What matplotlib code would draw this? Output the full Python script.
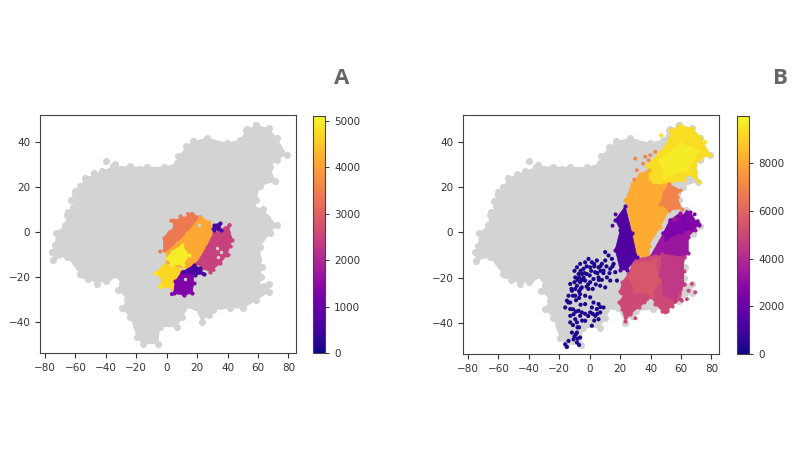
import matplotlib
matplotlib.use('Agg')
import matplotlib.pyplot as plt
from matplotlib import cm
from matplotlib.colors import Normalize

# gray cloud outline
gray_x = [-74.6,-75.6,-73.5,-72.8,-66.9,-65.8,-61.4,-60.3,-57,-53.7,-42.8,-35,-24,-13,-2,7,7.7,13,17.5,26.3,39.5,48,52.6,59,67,72.4,79,72.4,68,71.5,61.4,59,56,63.6,72.4,68,61.4,62.5,61.4,67.5,67.5,59,50.4,41.7,30.7,23,18.6,15,6.6,-4.4,-5.5,-15.4,-19.7,-24,-29.6,-26.3,-31.8,-30.7,-46,-57,-65.8]
gray_y = [-12.5,-8.8,-5.8,-0.3,3.1,7.6,11.3,16.5,20.3,24,27,29.2,29.2,29,29,30.7,33.7,38,40.4,41.9,39.6,41,45.6,47.4,46.3,41.9,34.4,32,29,22.5,20.3,14.3,12,10,3,-0.6,-6.6,-15.5,-24.4,-23,-26.7,-30.4,-34,-34,-34.9,-40,-33.4,-32.6,-42.3,-42.3,-49.8,-49.8,-46.8,-37.9,-34,-29.7,-26,-20,-23,-18.5,-11]
gray_dots_x = [-40,-34,-72,-58,-55,-65,-16,-8,64,52,59,-48,-30,-18,30,34,44,55,60,65,-68,-63,-60,-52,-40,-20,-8,-24,-12,0,10,28,60,62,66,-38,-50,-45]
gray_dots_y = [31.5,30,-6,-15,-19,9,-47,-45,-24,45.5,47.5,26,28,28,40,39,39,43,44,43,-4,14,18,-21,-22,-42,-47,-33,-44,-40,-38,-37,-12,-20,6,-20,-19,-21]

# panel A clusters: colour value, outline
a_values = [3400,4100,4700,4950,2450,1300,600,600]
a_x = [
    [-2.1,-2.1,1.2,4.5,4.1,10,16.6,22,20.9,13.3,6.7,1.2],
    [22,27.5,29.7,30.8,26.4,19.8,13.3,5.6,0.1,0.1,6.7,13.3],
    [-7.6,-2.1,3.4,10,5.6,3.4,-4.3,-3.2],
    [10,14.4,11,3.4,0.1,3.4],
    [40.7,42.9,39.6,35.2,28.6,23.1,19.8,26.4,30.8,36.3],
    [4.5,5.6,10,17.7,17.7,16.6,11.1],
    [11,17.7,22,24.2,18.8],
    [30.8,35.2,35.6,30.8],
]
a_y = [
    [-8,-2.8,0.1,1.6,5.3,6.1,8,6.8,3.1,-2,-5,-9.5],
    [6.8,4.6,1.6,-0.6,-6.5,-13.9,-16,-15.4,-13.2,-8.7,-5,-0.6],
    [-18.4,-14.7,-14.7,-16.9,-22,-25,-24.3,-20.6],
    [-5.8,-10.2,-14.7,-14.7,-11.7,-8.7],
    [3.1,-3.6,-10.2,-13.9,-17.6,-16.1,-13.9,-6.5,-0.6,0.9],
    [-27.3,-22,-17.6,-15.4,-22.8,-27.3,-28],
    [-17.6,-14.7,-16,-18.7,-19],
    [3.1,4.1,0.9,0.9],
]
a_dots_x = [42,38.5,41.3,42.2,40.7,34.1,30.8,34.1,30.8,24.2,22,3.4,11,7.8,15.9,-6.9,-4.3,-4.3,16.6,25,28,-0.5,3,9,14]
a_dots_y = [-2.8,1.6,3.1,-6.5,-10.2,-13.2,-16.9,1.2,1.3,-18.7,-17.2,-27.6,-27.6,-26.5,-25.8,-18.4,-24.3,-8.7,8,5,3,-4,5,7,8]
a_dots_c = [2450,2450,2450,2450,2450,2450,2450,600,600,600,600,1300,1300,1300,1300,4950,4950,3400,3400,4100,4100,3400,3400,3400,3400]
a_holes_x = [34,36,33,21,12]
a_holes_y = [-11,-9,-7,3,-21]

# panel B clusters
b_values = [9300,9650,8100,7000,3300,2500,5100,4500,5500,1400]
b_x = [
    [37.6,46.4,51.9,53,59.5,67.2,72.7,79.3,72.7,69.4,71.6,65,61.7,50.8,43.1,38.7],
    [46.4,59.5,72.7,64,48.6],
    [38.7,38.7,43.1,50.8,48.6,46.4,51.9,46.4,38.7,39.7,31,27.7,26.6,23.4,27.7,33.2],
    [48.6,51.9,59.5,57.3,60.6,51.9,46.4],
    [59.4,71.4,69.2,64.8,64.8,60.5,48.5,39.7,48.5,52.8],
    [55.2,62.8,66.1,71.6,67.2,60,50,48.5,52.8],
    [25.5,21.2,20.1,22.3,19,21.2,23.4,26.6,32.1,40.9,43.1,47.5,50.8,54.1,59.5,61.7,61.7,61.7,43.1,30],
    [47.5,61.7,61.7,56.2,48.6,46.4],
    [27.7,43.1,45.3,40.9,29.9,25.5],
    [23.4,27.7,31,24.5,20.1,16.8,20.1,16.8],
]
b_y = [
    [29.8,35.7,40.9,45.3,47.5,46.1,42.4,34.2,32.7,29.8,22.4,26,23.1,21.6,20.9,22.4],
    [32,39.4,36.4,27.6,24.6],
    [27.6,22.4,20.9,21.6,17.9,12.7,9.8,2.4,-5.8,-10.7,-10.7,-1.8,4.9,14.2,21.6,26],
    [17.9,21.6,18.7,15.7,10.5,9.8,12.7],
    [8.6,4.1,1.2,-1.8,-9.2,-12.1,-12.1,-10.7,-0.3,5.6],
    [3.9,8.3,9,3.1,1.6,0,-3,-0.3,5.6],
    [-18.4,-22,-25.8,-28,-31,-33.9,-39.1,-36.2,-33.2,-28.7,-31.7,-34.7,-34.7,-32.4,-29.5,-22.8,-16.9,-11,-10.2,-11.7],
    [-9.5,-11,-22.8,-30.2,-27.3,-18.4],
    [-13.9,-12.4,-21.3,-28,-25.8,-19.9],
    [11.6,-0.3,-10.7,-16.6,-16.6,-7.7,1.2,5.6],
]

# loose navy points of panel B
navy_x = [10.2,12.4,14.6,15.7,13.5,16.8,17.9,10.2,8,9.1,5.8,4.7,1.4,-0.8,-3,-6.3,-8.4,-4.1,-7.3,-1.9,2.5,5.8,11.3,13.5,6.9,10.2,3.6,0.3,-3,-9.5,-12.8,-11.7,-13.9,-8.4,-5.2,-0.8,-6.3,-9.5,-3,-15,-12.8,-16.1,-12.8,0.3,2.5,5.8,1.4,-3,4.7,9.1,6.9,3.6,0.3,5.8,-7.3,-10.6,-6.3,-9.5,-12.8,-12.8,-8.4,-3,-5.2,1.4,-11.7,-8.4,-6.3,-10.6,-8.4,-13.9,-16.1,-7,-15,-5.2,0.3,-6.3,-9.5,-2,-4,-1,3,7,-7,-10,-12,-6,
          -6,-5,-8,-10,-7,-3.5,-2,0,1,3,5,7,9,11,13,15,6,8,4,2,-11,-9,-7,-6,-11,-14,-9,-5,-3,-1,2,3,5,7,-8,-11,-8,-9,-10,-7]
navy_y = [-8.7,-10.2,-11.7,-13.9,-16.1,-17.6,-21.3,-12.4,-13.9,-16.9,-15.4,-12.4,-13.2,-11.7,-13.2,-13.9,-15.4,-16.1,-18.4,-18.4,-20.6,-19.9,-19.9,-21.3,-23.6,-24.3,-17.6,-22,-21.3,-19.9,-22.8,-25.8,-28,-23.6,-24.3,-25,-27.3,-28,-28,-30.2,-31,-33.2,-33.9,-28.7,-31,-31.7,-33.2,-31.7,-33.9,-33.2,-35.4,-36.9,-35.4,-38.4,-34.7,-36.2,-36.9,-38.4,-36.9,-39.8,-39.8,-39.1,-35.4,-41.3,-44.3,-44.3,-46.5,-47.3,-48.7,-48,-49.5,-49.8,-50.7,-18.4,-15.4,-22,-25,-15,-20,-23,-15,-17,-20,-22,-25,-25,
          -17,-21,-21,-17,-26,-18,-24,-19,-17,-14,-18,-15,-18,-15,-18,-15,-21,-21,-23,-25,-28,-30,-29,-32,-34,-31,-35,-39,-36,-37,-36,-39,-36,-33,-42,-41,-47,-45,-46,-42]

b_dots_x = [29.9,36.5,43.1,39.8,35,31,29.3,38.7,67.2,69.4,63.9,65,60.6,49.7,71,69,64,58,74,76,70,47,52,30,27,24,17,15,20,22,36,33,21,18]
b_dots_y = [32.7,33.5,35.7,34.2,30.5,27.6,23.4,32,-22.8,-26.5,-29.5,-25.8,-30.2,-35.4,5,8,9,7,37,40,27,43,38,-38,-36,-32,8,3,-3,-12,-31,-28,-27,-7]
b_dots_c = [7000]*8 + [5000]*6 + [2500]*4 + [9300]*5 + [5100]*3 + [1400]*4 + [5100]*3 + [1400]

vmax_a = 5100
vmax_b = 9970

plt.rcParams['font.size'] = 7.5
plt.rcParams['axes.edgecolor'] = '#444444'
plt.rcParams['xtick.color'] = '#333333'
plt.rcParams['ytick.color'] = '#333333'

fig = plt.figure(figsize=(8, 4.5), dpi=100)

def px_axes(left, top, right, bottom):
    return fig.add_axes([left/800, 1-bottom/450, (right-left)/800, (bottom-top)/450])

def draw_base(ax):
    ax.fill(gray_x, gray_y, color='lightgray', lw=0, zorder=1)
    ax.scatter(gray_x + gray_dots_x, gray_y + gray_dots_y, s=26, color='lightgray', lw=0, zorder=1)
    ax.set_xlim(-83.3, 85)
    ax.set_ylim(-53.8, 52)
    ax.set_xticks(range(-80, 81, 20))
    ax.set_yticks([-40, -20, 0, 20, 40])

def draw_clusters(ax, xs, ys, values, norm):
    for x, y, v in zip(xs, ys, values):
        c = cm.plasma(norm(v))
        ax.fill(x, y, color=c, lw=0.5, zorder=2)
        ax.scatter(x, y, s=9, color=c, lw=0, zorder=2)

def add_bar(norm, left, top, right, bottom, ticks):
    cax = px_axes(left, top, right, bottom)
    cb = fig.colorbar(cm.ScalarMappable(norm=norm, cmap='plasma'), cax=cax)
    cb.set_ticks(ticks)
    cb.ax.tick_params(length=3, width=0.7)

# panel A
ax1 = px_axes(40, 115, 296, 353)
draw_base(ax1)
norm_a = Normalize(0, vmax_a)
draw_clusters(ax1, a_x, a_y, a_values, norm_a)
ax1.scatter(a_dots_x, a_dots_y, c=a_dots_c, cmap='plasma', norm=norm_a, s=8, lw=0, zorder=3)
ax1.scatter(a_holes_x, a_holes_y, s=6, color='lightgray', lw=0, zorder=3)
add_bar(norm_a, 313, 116, 325, 353, [0, 1000, 2000, 3000, 4000, 5000])

# panel B
ax2 = px_axes(463, 115, 719, 354)
draw_base(ax2)
norm_b = Normalize(0, vmax_b)
draw_clusters(ax2, b_x, b_y, b_values, norm_b)
ax2.scatter(b_dots_x, b_dots_y, c=b_dots_c, cmap='plasma', norm=norm_b, s=8, lw=0, zorder=3)
ax2.scatter(navy_x, navy_y, c=[300]*len(navy_x), cmap='plasma', norm=norm_b, s=9, lw=0, zorder=3)
add_bar(norm_b, 737, 116, 749, 354, [0, 2000, 4000, 6000, 8000])

fig.text(342/800, 1-79/450, 'A', fontsize=16, fontweight='bold', color='#666666',
         family='Open Sans', ha='center', va='center')
fig.text(780/800, 1-79/450, 'B', fontsize=16, fontweight='bold', color='#666666',
         family='Open Sans', ha='center', va='center')

fig.savefig('out.png', dpi=100)
